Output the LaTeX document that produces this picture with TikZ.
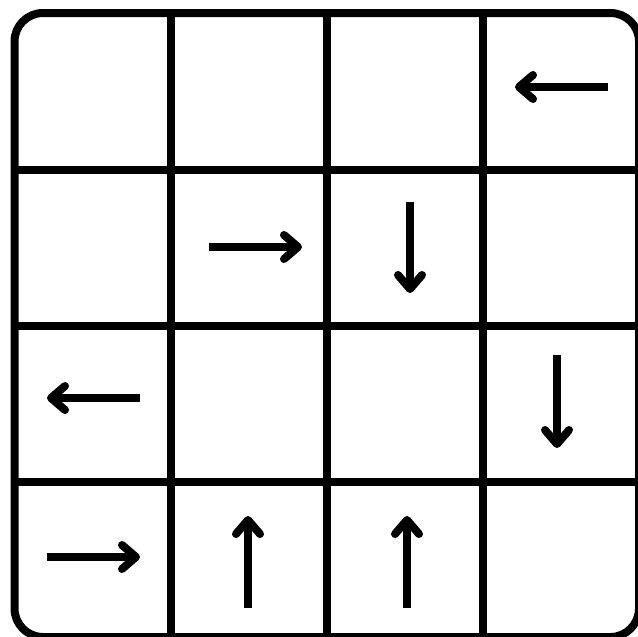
\documentclass[tikz,border=0pt]{standalone}
\begin{document}
\begin{tikzpicture}[x=0.75pt,y=-0.75pt,
  gridline/.style={line width=6pt},
  shaft/.style={line width=6pt,line cap=butt},
  barb/.style={line width=6pt,line cap=round,line join=round}]
\useasboundingbox (0,0) rectangle (638,636);
% outer frame
\draw[gridline,rounded corners=21.4pt] (14.5,13) rectangle (639,637);
% inner lines
\foreach \x in {171,327,483} \draw[gridline] (\x,13) -- (\x,637);
\foreach \y in {170,326,482} \draw[gridline] (14.5,\y) -- (639,\y);
% arrows: left
\foreach \tx/\jx/\y in {608/519/87, 140/51/398}{
  \draw[shaft] (\tx,\y) -- (\jx+2,\y);
  \draw[barb] (\jx+14,\y-12) -- (\jx,\y) -- (\jx+14,\y+12);
}
% right
\foreach \tx/\jx/\y in {209/298/247, 47/136/557}{
  \draw[shaft] (\tx,\y) -- (\jx-2,\y);
  \draw[barb] (\jx-14,\y-12) -- (\jx,\y) -- (\jx-14,\y+12);
}
% down
\foreach \x/\ty/\jy in {410/202/289, 557/355/444}{
  \draw[shaft] (\x,\ty) -- (\x,\jy-2);
  \draw[barb] (\x-12,\jy-14) -- (\x,\jy) -- (\x+12,\jy-14);
}
% up
\foreach \x/\ty/\jy in {248/608/520, 407/608/520}{
  \draw[shaft] (\x,\ty) -- (\x,\jy+2);
  \draw[barb] (\x-12,\jy+14) -- (\x,\jy) -- (\x+12,\jy+14);
}
\end{tikzpicture}
\end{document}
